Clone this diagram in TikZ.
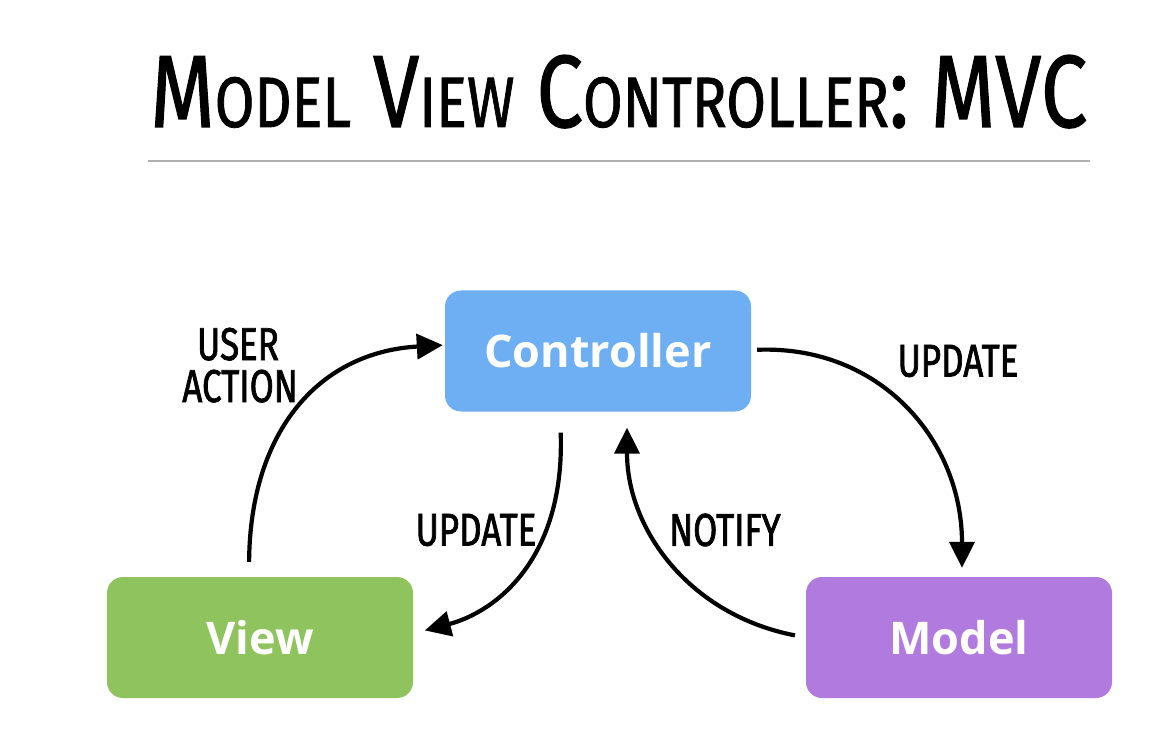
\documentclass[tikz,border=0pt]{standalone}
\usepackage{fontspec}
\usepackage{graphicx}
\usetikzlibrary{arrows.meta}
\newfontfamily\boxfont{Open Sans}
\newfontfamily\handfont[FakeStretch=0.76,FakeBold=1.5]{Fira Sans}
\newfontfamily\titlefont[FakeBold=1.2]{Fira Sans}
\newcommand\TBig[1]{{\fontsize{72}{72}\selectfont #1}}
\newcommand\TSm[1]{{\fontsize{50}{50}\selectfont #1}}
\definecolor{ctrlblue}{RGB}{110,174,242}
\definecolor{viewgreen}{RGB}{143,195,93}
\definecolor{modelpurple}{RGB}{176,122,223}
\definecolor{rulegray}{RGB}{175,175,175}
\tikzset{
  box/.style={rounded corners=16pt, minimum width=306pt, minimum height=121pt,
    inner sep=0pt, text=white, font=\boxfont\bfseries\fontsize{45}{45}\selectfont},
  flow/.style={line width=4.2pt, -{Triangle[length=26pt,width=25pt]}},
  lab/.style={font=\handfont\fontsize{46}{46}\selectfont, inner sep=0pt}
}
\begin{document}
\begin{tikzpicture}[x=1pt,y=-1pt]
\useasboundingbox[fill=white] (0,0) rectangle (1152,754);
% title
\node[anchor=base west, inner sep=0pt] (title) at (150,127)
  {\resizebox{937pt}{72pt}{\titlefont\TBig{M}\TSm{ODEL}\TBig{ V}\TSm{IEW}\TBig{ C}\TSm{ONTROLLER}\TBig{: MVC}}};
\draw[rulegray, line width=2pt] (148,161) -- (1090,161);
% boxes
\node[box, fill=ctrlblue] (ctrl) at (598,351) {Controller};
\node[box, fill=viewgreen] (view) at (260,637.5) {View};
\node[box, fill=modelpurple] (model) at (959,637.5) {Model};
% connectors
\draw[flow, shorten <=15pt, shorten >=2pt] ([xshift=-11pt]view.north)
  .. controls (250,430) and (320,352) .. ([yshift=6pt]ctrl.west);
\draw[flow, shorten <=21pt, shorten >=12pt] ([xshift=-38pt]ctrl.south)
  .. controls (565,560) and (495,612) .. ([yshift=4pt]view.east);
\draw[flow, shorten <=11pt, shorten >=16pt] (model.west)
  .. controls (690,615) and (627,530) .. ([xshift=29pt]ctrl.south);
\draw[flow, shorten <=6pt, shorten >=9pt] ([yshift=1pt]ctrl.east)
  .. controls (880,345) and (962,440) .. ([xshift=3pt]model.north);
% labels
\node[lab, anchor=base] (ua1) at (238,360) {USER};
\node[lab, anchor=base] (ua2) at (240,402) {ACTION};
\node[lab] (upr) at (958,361) {UPDATE};
\node[lab] (upl) at (476,530) {UPDATE};
\node[lab] (nt) at (725,530) {NOTIFY};
\end{tikzpicture}
\end{document}
